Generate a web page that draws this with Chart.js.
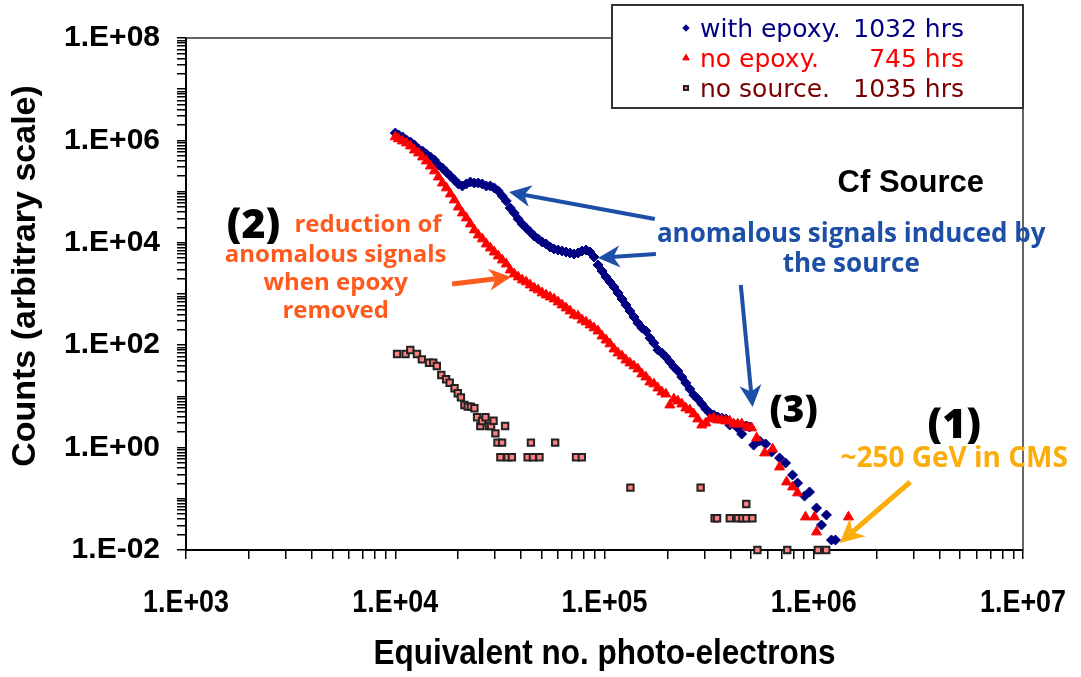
<!DOCTYPE html>
<html>
<head>
<meta charset="utf-8">
<title>Cf source - anomalous signals</title>
<script src="https://cdn.jsdelivr.net/npm/chart.js@4.4.1/dist/chart.umd.min.js"></script>
<style>
  body { margin: 0; background: #fff; }
  #wrap { width: 1081px; height: 677px; }
</style>
</head>
<body>
<div id="wrap"><canvas id="chart" width="1081" height="677"></canvas></div>
<script>
// with epoxy, 1032 hrs
const epoxyX = [
  1.00e4, 1.036e4, 1.083e4, 1.131e4, 1.182e4, 1.235e4, 1.291e4, 1.349e4, 1.409e4, 1.473e4,
  1.539e4, 1.608e4, 1.680e4, 1.755e4, 1.834e4, 1.917e4, 2.003e4, 2.093e4, 2.186e4, 2.285e4,
  2.387e4, 2.494e4, 2.606e4, 2.723e4, 2.846e4, 2.973e4, 3.107e4, 3.246e4, 3.392e4, 3.544e4,
  3.703e4, 3.869e4, 4.043e4, 4.224e4, 4.414e4, 4.612e4, 4.819e4, 5.035e4, 5.261e4, 5.497e4,
  5.744e4, 6.002e4, 6.271e4, 6.553e4, 6.847e4, 7.154e4, 7.475e4, 7.811e4, 8.161e4, 8.528e4,
  8.911e4, 9.311e4, 9.729e4, 1.017e5, 1.062e5, 1.110e5, 1.160e5, 1.212e5, 1.266e5, 1.323e5,
  1.382e5, 1.444e5, 1.509e5, 1.577e5, 1.648e5, 1.722e5, 1.799e5, 1.880e5, 1.964e5, 2.053e5,
  2.145e5, 2.241e5, 2.342e5, 2.447e5, 2.557e5, 2.671e5, 2.791e5, 2.917e5, 3.048e5, 3.184e5,
  3.327e5, 3.477e5, 3.633e5, 3.796e5, 3.966e5, 4.144e5, 4.330e5, 4.525e5, 4.728e5, 4.940e5,
  5.162e5, 5.513e5, 5.888e5, 6.289e5, 6.866e5, 7.334e5, 7.917e5, 8.367e5, 9.034e5, 9.544e5,
  1.031e6, 1.089e6, 1.150e6, 1.215e6, 1.270e6
];
const epoxyY = [
  1.39e6, 1.28e6, 1.17e6, 1.02e6, 9.31e5, 8.13e5, 6.79e5, 6.21e5, 5.42e5, 4.74e5,
  4.14e5, 3.31e5, 2.89e5, 2.41e5, 2.02e5, 1.69e5, 1.41e5, 1.29e5, 1.41e5, 1.54e5,
  1.47e5, 1.47e5, 1.41e5, 1.29e5, 1.29e5, 1.18e5, 1.03e5, 8.21e4, 6.55e4, 4.78e4,
  3.82e4, 2.92e4, 2.33e4, 1.95e4, 1.63e4, 1.36e4, 1.19e4, 1.04e4, 9.48e3, 8.28e3,
  7.57e3, 7.23e3, 6.92e3, 6.61e3, 6.32e3, 6.04e3, 6.32e3, 6.92e3, 7.23e3, 6.61e3,
  5.28e3, 3.69e3, 2.81e3, 2.15e3, 1.72e3, 1.37e3, 1.05e3, 799, 610, 466,
  355, 271, 217, 189, 138, 110, 80.6, 70.4, 58.8, 47.0,
  37.5, 31.3, 23.9, 18.3, 13.9, 10.6, 8.90, 7.10, 5.67, 4.74,
  4.33, 3.96, 3.79, 3.62, 2.76, 2.89, 2.42, 1.84, 2.64, 2.53,
  1.12, 1.35, 1.18, 0.820, 0.627, 0.500, 0.292, 0.203, 0.113, 0.136,
  0.0661, 0.0308, 0.0483, 0.0157, 0.0157
];

// no epoxy, 745 hrs
const noEpoxyX = [
  1.00e4, 1.036e4, 1.083e4, 1.131e4, 1.182e4, 1.235e4, 1.291e4, 1.349e4, 1.409e4, 1.473e4,
  1.539e4, 1.608e4, 1.680e4, 1.755e4, 1.834e4, 1.917e4, 2.003e4, 2.093e4, 2.186e4, 2.285e4,
  2.387e4, 2.494e4, 2.606e4, 2.723e4, 2.846e4, 2.973e4, 3.107e4, 3.246e4, 3.392e4, 3.544e4,
  3.703e4, 3.869e4, 4.043e4, 4.224e4, 4.414e4, 4.612e4, 4.819e4, 5.035e4, 5.261e4, 5.497e4,
  5.744e4, 6.002e4, 6.271e4, 6.553e4, 6.847e4, 7.154e4, 7.475e4, 7.811e4, 8.161e4, 8.528e4,
  8.911e4, 9.311e4, 9.729e4, 1.017e5, 1.062e5, 1.110e5, 1.160e5, 1.212e5, 1.266e5, 1.323e5,
  1.382e5, 1.444e5, 1.509e5, 1.577e5, 1.648e5, 1.722e5, 1.799e5, 1.880e5, 1.964e5, 2.053e5,
  2.145e5, 2.241e5, 2.342e5, 2.447e5, 2.557e5, 2.671e5, 2.791e5, 2.917e5, 3.048e5, 3.184e5,
  3.327e5, 3.477e5, 3.633e5, 3.796e5, 3.966e5, 4.144e5, 4.330e5, 4.525e5, 4.832e5, 5.050e5,
  5.335e5, 5.824e5, 6.358e5, 6.866e5, 7.415e5, 7.917e5, 8.367e5, 9.133e5, 1.008e6, 1.031e6,
  1.465e6
];
const noEpoxyY = [
  1.17e6, 1.07e6, 9.73e5, 8.90e5, 7.78e5, 6.49e5, 5.67e5, 4.74e5, 3.96e5, 3.16e5,
  2.53e5, 1.93e5, 1.47e5, 1.18e5, 8.98e4, 6.86e4, 5.00e4, 3.82e4, 3.05e4, 2.33e4,
  1.78e4, 1.42e4, 1.19e4, 9.48e3, 7.91e3, 6.61e3, 5.52e3, 4.61e3, 3.85e3, 2.94e3,
  2.46e3, 2.15e3, 1.88e3, 1.72e3, 1.50e3, 1.31e3, 1.20e3, 1.05e3, 956, 874,
  799, 698, 610, 533, 466, 389, 372, 311, 284, 248,
  217, 189, 151, 126, 106, 84.3, 70.4, 61.5, 51.4, 44.9,
  39.3, 34.3, 27.4, 23.9, 19.1, 17.5, 14.6, 12.2, 11.1, 6.79,
  8.90, 8.13, 7.10, 5.93, 5.42, 4.53, 3.62, 2.76, 3.02, 3.62,
  3.79, 3.46, 3.46, 3.31, 3.31, 2.89, 2.89, 2.89, 2.53, 2.42,
  1.54, 0.784, 0.939, 0.418, 0.213, 0.170, 0.130, 0.0441, 0.0441, 0.0225,
  0.0441
];

// no source, 1035 hrs
const noSourceX = [
  1.02e4, 1.12e4, 1.18e4, 1.27e4, 1.34e4, 1.45e4, 1.52e4, 1.58e4, 1.66e4, 1.75e4,
  1.82e4, 1.92e4, 1.99e4, 2.06e4, 2.14e4, 2.22e4, 2.30e4, 2.39e4, 2.46e4, 2.55e4,
  2.60e4, 2.70e4, 2.80e4, 2.87e4, 2.95e4, 3.01e4, 3.08e4, 3.18e4, 3.24e4, 3.35e4,
  3.44e4, 3.61e4, 4.29e4, 4.45e4, 4.55e4, 4.89e4, 5.81e4, 7.31e4, 7.79e4, 1.33e5,
  2.88e5, 3.36e5, 3.45e5, 3.97e5, 4.34e5, 4.56e5, 4.76e5, 4.76e5, 5.09e5, 5.38e5,
  7.47e5, 1.046e6, 1.147e6
];
const noSourceY = [
  67.3, 67.3, 80.6, 67.3, 53.0, 45.5, 45.5, 39.3, 26.2, 21.6,
  18.5, 14.4, 11.5, 9.6, 6.8, 6.3, 6.3, 5.86, 3.91, 2.64,
  3.31, 3.91, 2.64, 2.64, 3.35, 1.90, 1.25, 0.647, 1.25, 2.64,
  0.647, 0.647, 0.647, 1.25, 0.647, 0.647, 1.25, 0.647, 0.647, 0.165,
  0.165, 0.0416, 0.0416, 0.0416, 0.0416, 0.0416, 0.0416, 0.079, 0.0416, 0.01,
  0.01, 0.01, 0.01
];

const seriesLabels = ['with epoxy.', 'no epoxy.', 'no source.'];
const seriesHours = ['1032 hrs', '745 hrs', '1035 hrs'];

// labelled decades on each axis
const xLabelValues = [1e3, 1e4, 1e5, 1e6, 1e7];
const xTickLabels = ['1.E+03', '1.E+04', '1.E+05', '1.E+06', '1.E+07'];
const yLabelValues = [1e-2, 1e0, 1e2, 1e4, 1e6, 1e8];
const yTickLabels = ['1.E-02', '1.E+00', '1.E+02', '1.E+04', '1.E+06', '1.E+08'];
const xTitle = 'Equivalent no. photo-electrons';
const yTitle = 'Counts (arbitrary scale)';

const NAVY = '#000080';
const RED = '#ff0000';
const SALMON = '#ff8080';
const NOTE_BLUE = '#1d4fa6';
const NOTE_ORANGE = '#ff5a1e';
const NOTE_GOLD = '#fbad0b';

// arrows and notes are placed in data coordinates
const arrows = [
  { from: [1.74e5, 2.92e4], to: [3.50e4, 9.8e4], color: NOTE_BLUE, width: 4, head: 22 },
  { from: [1.76e5, 6.04e3], to: [9.31e4, 5.05e3], color: NOTE_BLUE, width: 4, head: 22 },
  { from: [4.48e5, 1.5e3], to: [5.1e5, 6.2], color: NOTE_BLUE, width: 4, head: 22 },
  { from: [1.87e4, 1.57e3], to: [3.58e4, 2.15e3], color: NOTE_ORANGE, width: 5, head: 22 },
  { from: [2.89e6, 0.213], to: [1.33e6, 0.0137], color: NOTE_GOLD, width: 5, head: 24 }
];

const notes = [
  { lines: ['Cf Source'], at: [2.91e6, 1.0e5], font: 'bold 31px "Liberation Sans", Arial', color: '#000' },
  { lines: ['(2)'], at: [2.10e3, 1.24e4], font: '800 41px "Open Sans"', color: '#000' },
  { lines: ['reduction of'], at: [7.41e3, 1.65e4], font: 'bold 24px "Open Sans"', color: NOTE_ORANGE },
  { lines: ['anomalous signals', 'when epoxy', 'removed'], at: [5.19e3, 4.28e3], lineHeight: 28.3,
    font: 'bold 24px "Open Sans"', color: NOTE_ORANGE },
  { lines: ['anomalous signals induced by', 'the source'], at: [1.51e6, 1.05e4], lineHeight: 30,
    font: 'bold 26px "Open Sans"', color: NOTE_BLUE },
  { lines: ['(3)'], at: [8.01e5, 3.21], font: '800 37px "Open Sans"', color: '#000' },
  { lines: ['(1)'], at: [4.69e6, 1.52], font: '800 41px "Open Sans"', color: '#000' },
  { lines: ['~250 GeV in CMS'], at: [4.69e6, 0.424], font: 'bold 28px "Open Sans"', color: NOTE_GOLD }
];

function toPoints(xs, ys) {
  return xs.map((x, i) => ({ x: x, y: ys[i] }));
}

// 1..9 x 10^n tick marks across the whole range
function logTicks(min, max) {
  const ticks = [];
  const lo = Math.round(Math.log10(min));
  const hi = Math.round(Math.log10(max));
  for (let e = lo; e < hi; e++) {
    for (let m = 1; m < 10; m++) {
      ticks.push({ value: Number((m * Math.pow(10, e)).toPrecision(6)), major: m === 1 });
    }
  }
  ticks.push({ value: max, major: true });
  return ticks;
}

function decadeLabel(values, labels) {
  return function (value) {
    const i = values.findIndex(v => Math.abs(value / v - 1) < 1e-6);
    return i >= 0 ? labels[i] : '';
  };
}

// horizontally squeezed text, for the narrow bold face of the x axis
function fillNarrow(ctx, text, x, y, squeeze) {
  ctx.save();
  ctx.translate(x, y);
  ctx.scale(squeeze, 1);
  ctx.fillText(text, 0, 0);
  ctx.restore();
}

function drawArrow(ctx, x1, y1, x2, y2, color, width, head) {
  const ang = Math.atan2(y2 - y1, x2 - x1);
  ctx.save();
  ctx.strokeStyle = color;
  ctx.fillStyle = color;
  ctx.lineWidth = width;
  ctx.beginPath();
  ctx.moveTo(x1, y1);
  ctx.lineTo(x2 - Math.cos(ang) * head * 0.6, y2 - Math.sin(ang) * head * 0.6);
  ctx.stroke();
  ctx.translate(x2, y2);
  ctx.rotate(ang);
  ctx.beginPath();
  ctx.moveTo(0, 0);
  ctx.lineTo(-head, -head * 0.5);
  ctx.lineTo(-head * 0.7, 0);
  ctx.lineTo(-head, head * 0.5);
  ctx.closePath();
  ctx.fill();
  ctx.restore();
}

const overlay = {
  id: 'overlay',
  beforeDatasetsDraw(chart) {
    const { ctx, chartArea: a } = chart;
    const sx = chart.scales.x;
    ctx.save();
    // top and right edges of the plot frame
    ctx.strokeStyle = '#333';
    ctx.lineWidth = 1.5;
    ctx.beginPath();
    ctx.moveTo(a.left, a.top);
    ctx.lineTo(a.right, a.top);
    ctx.lineTo(a.right, a.bottom);
    ctx.stroke();

    // x tick labels and axis title
    ctx.fillStyle = '#000';
    ctx.textAlign = 'center';
    ctx.textBaseline = 'alphabetic';
    ctx.font = 'bold 32px "Liberation Sans", Arial';
    xLabelValues.forEach((v, i) => fillNarrow(ctx, xTickLabels[i], sx.getPixelForValue(v), a.bottom + 62, 0.84));
    ctx.font = 'bold 35px "Liberation Sans", Arial';
    fillNarrow(ctx, xTitle, (a.left + a.right) / 2, a.bottom + 114, 0.9);

    // y title sits a little above the middle of the axis
    ctx.font = 'bold 34px "Liberation Sans", Arial';
    ctx.textBaseline = 'middle';
    ctx.translate(26, 276);
    ctx.rotate(-Math.PI / 2);
    ctx.fillText(yTitle, 0, 0);
    ctx.restore();
  },
  afterDraw(chart) {
    const { ctx } = chart;
    const sx = chart.scales.x, sy = chart.scales.y;

    arrows.forEach(a => {
      drawArrow(ctx,
        sx.getPixelForValue(a.from[0]), sy.getPixelForValue(a.from[1]),
        sx.getPixelForValue(a.to[0]), sy.getPixelForValue(a.to[1]),
        a.color, a.width, a.head);
    });

    ctx.save();
    ctx.textAlign = 'center';
    ctx.textBaseline = 'alphabetic';
    notes.forEach(n => {
      const px = sx.getPixelForValue(n.at[0]);
      const py = sy.getPixelForValue(n.at[1]);
      ctx.font = n.font;
      ctx.fillStyle = n.color;
      n.lines.forEach((t, i) => ctx.fillText(t, px, py + i * (n.lineHeight || 0)));
    });
    ctx.restore();

    // legend box in the top right corner
    const box = { x: 612, y: 5, w: 411, h: 103 };
    ctx.save();
    ctx.fillStyle = '#fff';
    ctx.fillRect(box.x, box.y, box.w, box.h);
    ctx.strokeStyle = '#333';
    ctx.lineWidth = 2;
    ctx.strokeRect(box.x, box.y, box.w, box.h);
    ctx.font = '25px "DejaVu Sans"';
    ctx.textBaseline = 'alphabetic';
    const textColors = [NAVY, RED, '#7a0000'];
    chart.data.datasets.forEach((ds, i) => {
      const base = box.y + 32 + i * 30;
      ctx.fillStyle = ds.backgroundColor;
      ctx.strokeStyle = ds.borderColor;
      ctx.lineWidth = ds.borderWidth;
      Chart.helpers.drawPoint(ctx, { pointStyle: ds.pointStyle, radius: ds.pointRadius * 0.65, borderWidth: ds.borderWidth, rotation: 0 }, box.x + 74, base - 9);
      ctx.fillStyle = textColors[i];
      ctx.textAlign = 'left';
      ctx.fillText(seriesLabels[i], box.x + 88, base);
      ctx.textAlign = 'right';
      ctx.fillText(seriesHours[i], box.x + 352, base);
    });
    ctx.restore();
  }
};

const ctx = document.getElementById('chart').getContext('2d');
new Chart(ctx, {
  type: 'scatter',
  data: {
    datasets: [
      {
        label: seriesLabels[0],
        data: toPoints(epoxyX, epoxyY),
        pointStyle: 'rectRot',
        pointRadius: 5,
        backgroundColor: NAVY,
        borderColor: NAVY,
        borderWidth: 1,
        clip: false,
        order: 3
      },
      {
        label: seriesLabels[1],
        data: toPoints(noEpoxyX, noEpoxyY),
        pointStyle: 'triangle',
        pointRadius: 5.8,
        backgroundColor: RED,
        borderColor: RED,
        borderWidth: 1,
        clip: false,
        order: 2
      },
      {
        label: seriesLabels[2],
        data: toPoints(noSourceX, noSourceY),
        pointStyle: 'rect',
        pointRadius: 4.5,
        backgroundColor: SALMON,
        borderColor: '#222',
        borderWidth: 2,
        clip: false,
        order: 1
      }
    ]
  },
  options: {
    responsive: false,
    animation: false,
    events: [],
    layout: { padding: { top: 38, right: 58, left: 0, bottom: 0 } },
    plugins: {
      legend: { display: false },
      tooltip: { enabled: false }
    },
    scales: {
      x: {
        type: 'logarithmic',
        position: 'bottom',
        min: 1e3,
        max: 1e7,
        afterBuildTicks: scale => { scale.ticks = logTicks(scale.min, scale.max); },
        afterFit: scale => { scale.height = 127; },
        border: { display: true, color: '#000', width: 2 },
        grid: { drawOnChartArea: false, drawTicks: true, tickLength: 9, color: '#000', lineWidth: 1.5 },
        ticks: { display: false, autoSkip: false }
      },
      y: {
        type: 'logarithmic',
        min: 1e-2,
        max: 1e8,
        afterBuildTicks: scale => { scale.ticks = logTicks(scale.min, scale.max); },
        afterFit: scale => { scale.width = 186; },
        border: { display: true, color: '#000', width: 2 },
        grid: { drawOnChartArea: false, drawTicks: true, tickLength: 9, color: '#000', lineWidth: 1.5 },
        ticks: {
          autoSkip: false,
          padding: 17,
          color: '#000',
          font: { family: '"Liberation Sans"', weight: 'bold', size: 30 },
          callback: decadeLabel(yLabelValues, yTickLabels)
        },
        title: { display: false }
      }
    }
  },
  plugins: [overlay]
});
</script>
</body>
</html>
